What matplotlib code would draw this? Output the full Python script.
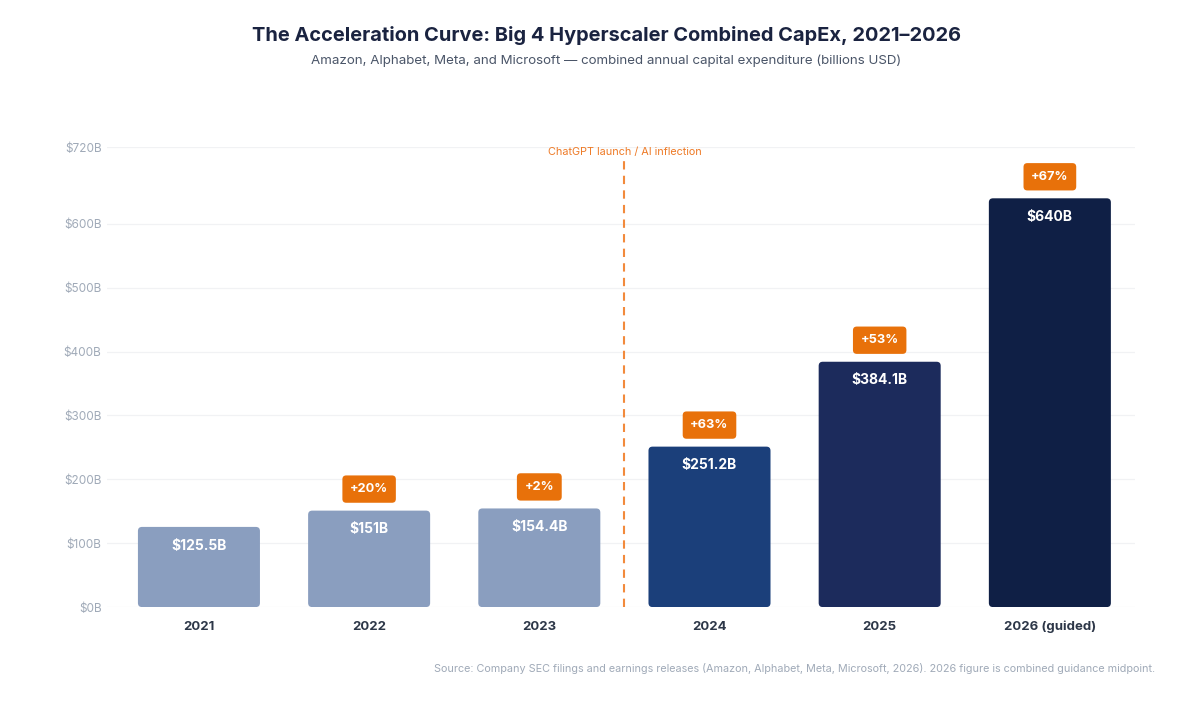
import matplotlib
matplotlib.use("Agg")
import matplotlib.pyplot as plt
from matplotlib.patches import FancyBboxPatch

plt.rcParams['font.family'] = ['Inter', 'DejaVu Sans']

years = ["2021", "2022", "2023", "2024", "2025", "2026 (guided)"]
capex = [125.5, 151, 154.4, 251.2, 384.1, 640]
value_labels = ["$125.5B", "$151B", "$154.4B", "$251.2B", "$384.1B", "$640B"]
growth_labels = [None, "+20%", "+2%", "+63%", "+53%", "+67%"]
bar_colors = ["#8a9ebf", "#8a9ebf", "#8a9ebf", "#1b3f7a", "#1c2b5c", "#0f1f45"]
y_ticks = [0, 100, 200, 300, 400, 500, 600, 720]

fig = plt.figure(figsize=(12, 7.01), dpi=100)
ax = fig.add_axes([0.0892, 0.134, 0.8566, 0.656])

x = list(range(len(years)))
bars = ax.bar(x, capex, width=0.717, color=bar_colors, zorder=2)

# swap plain bars for slightly rounded ones
for b in bars:
    rb = FancyBboxPatch((b.get_x(), b.get_y()), b.get_width(), b.get_height(),
                        boxstyle="round,pad=0,rounding_size=0.024",
                        mutation_aspect=266, facecolor=b.get_facecolor(),
                        edgecolor="none", zorder=2)
    b.set_visible(False)
    ax.add_patch(rb)

for i, (v, lab) in enumerate(zip(capex, value_labels)):
    ax.annotate(lab, (i, v), xytext=(0, -13.5), textcoords="offset points",
                ha="center", va="center", color="white", fontsize=10,
                fontweight="bold", zorder=3)
    if growth_labels[i]:
        ax.annotate(growth_labels[i], (i, v), xytext=(0, 15.5), textcoords="offset points",
                    ha="center", va="center", color="white", fontsize=9.2,
                    fontweight="bold", zorder=3,
                    bbox=dict(boxstyle="round,pad=0.6,rounding_size=0.3",
                              facecolor="#e8710a", edgecolor="none"))

# ChatGPT marker between 2023 and 2024
ax.plot([2.5, 2.5], [0, 704], color="#f28a3c", lw=1.5, ls=(0, (4, 3)), zorder=3)
ax.text(2.5, 713, "ChatGPT launch / AI inflection", ha="center", va="center",
        color="#ee7a26", fontsize=7.8)

ax.set_xlim(-0.54, 5.5)
ax.set_ylim(0, 720)
ax.set_yticks(y_ticks)
ax.set_yticklabels(["$%dB" % t for t in y_ticks], color="#a0aab8", fontsize=8.5)
ax.set_xticks(x)
ax.set_xticklabels(years, fontsize=9.5, fontweight="bold", color="#2d3748")
ax.tick_params(length=0)
ax.tick_params(axis="y", pad=4)
ax.tick_params(axis="x", pad=10)
ax.grid(axis="y", color="#f1f2f4", lw=0.9, zorder=0)
ax.set_axisbelow(True)
for s in ax.spines.values():
    s.set_visible(False)

fig.text(0.505, 0.95, "The Acceleration Curve: Big 4 Hyperscaler Combined CapEx, 2021\u20132026",
         ha="center", va="center", fontsize=14.4, fontweight="bold", color="#1a2340")
fig.text(0.505, 0.913, "Amazon, Alphabet, Meta, and Microsoft \u2014 combined annual capital expenditure (billions USD)",
         ha="center", va="center", fontsize=9.6, color="#4a5568")
fig.text(0.963, 0.047, "Source: Company SEC filings and earnings releases (Amazon, Alphabet, Meta, Microsoft, 2026). "
         "2026 figure is combined guidance midpoint.",
         ha="right", va="center", fontsize=7.8, color="#a0aab8")

fig.savefig("out.png", dpi=100, facecolor="white")
